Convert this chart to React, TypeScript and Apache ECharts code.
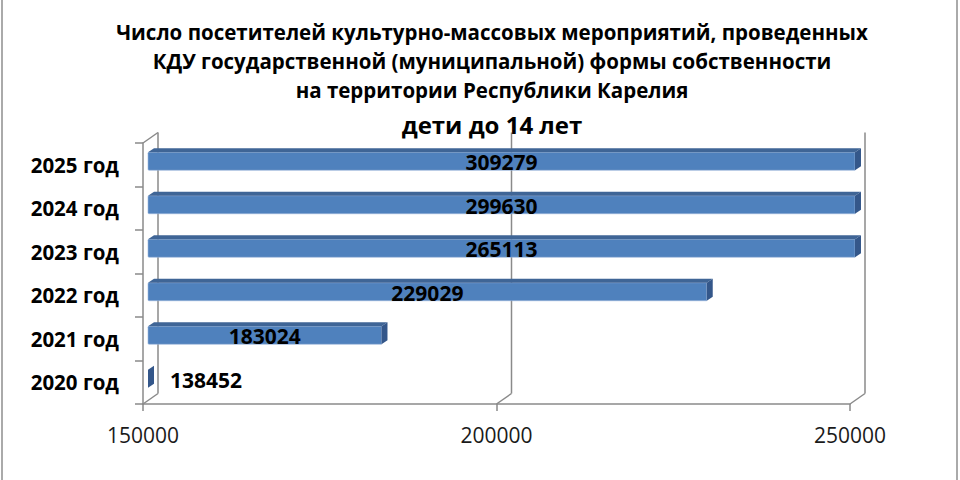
import React, { useEffect, useRef } from "react";
import * as echarts from "echarts";

const categories = ["2020 год", "2021 год", "2022 год", "2023 год", "2024 год", "2025 год"];
const visitors = [138452, 183024, 229029, 265113, 299630, 309279];
const xTicks = [150000, 200000, 250000];
const titleLines = [
  "Число посетителей культурно-массовых мероприятий, проведенных",
  "КДУ государственной (муниципальной) формы собственности",
  "на территории Республики Карелия",
];
const subtitle = "дети до 14 лет";

const X_MIN = xTicks[0];
const X_MAX = xTicks[xTicks.length - 1];
const X_INTERVAL = xTicks[1] - xTicks[0];

const FONT = "'Open Sans', 'Noto Sans', sans-serif";
const LINE = "#8a8a8a";

export default function App() {
  const ref = useRef<HTMLDivElement>(null);

  useEffect(() => {
    if (!ref.current) return;
    const chart = echarts.init(ref.current, undefined, { renderer: "svg" });

    const WALL_DX = 15;
    const WALL_DY = -10.5;
    const BAR_FDX = 5;
    const BAR_FDY = -3.5;
    const BAR_BDX = 6;
    const BAR_BDY = -4;

    const wallsRender = (params: any, api: any) => {
      const cs = params.coordSys;
      const top = cs.y;
      const bottom = cs.y + cs.height;
      const children: any[] = [];
      const st = { stroke: LINE, lineWidth: 1.5, fill: "none" };
      xTicks.forEach((v, i) => {
        const fx = api.coord([v, 0])[0];
        children.push({
          type: "line",
          shape: { x1: fx + WALL_DX, y1: top + WALL_DY, x2: fx + WALL_DX, y2: bottom + WALL_DY },
          style: st,
        });
        children.push({
          type: "line",
          shape: { x1: fx, y1: bottom, x2: fx + WALL_DX, y2: bottom + WALL_DY },
          style: st,
        });
        if (i === 0) {
          children.push({
            type: "line",
            shape: { x1: fx, y1: top, x2: fx + WALL_DX, y2: top + WALL_DY },
            style: st,
          });
        }
      });
      return { type: "group", children };
    };

    const barsRender = (params: any, api: any) => {
      const val = api.value(0);
      const idx = api.value(1);
      const c = Math.max(X_MIN, Math.min(X_MAX, val));
      const start = api.coord([X_MIN, idx]);
      const end = api.coord([c, idx]);
      const bandH = api.size([0, 1])[1];
      const h = bandH * 0.414;
      const yc = start[1] + BAR_FDY;
      const yTop = yc - h / 2;
      const yBot = yc + h / 2;
      const x0 = start[0] + BAR_FDX;
      const x1 = end[0] + BAR_FDX;
      const children: any[] = [];
      if (x1 > x0) {
        children.push({
          type: "rect",
          shape: { x: x0, y: yTop, width: x1 - x0, height: h, r: [1, 0, 0, 1] },
          style: { fill: "#4f81bd", stroke: "#9cb7db", lineWidth: 0.6 },
        });
        children.push({
          type: "polygon",
          shape: {
            points: [
              [x0, yTop],
              [x0 + BAR_BDX, yTop + BAR_BDY],
              [x1 + BAR_BDX, yTop + BAR_BDY],
              [x1, yTop],
            ],
          },
          style: { fill: "#3f6596" },
        });
      }
      children.push({
        type: "polygon",
        shape: {
          points: [
            [x1, yTop],
            [x1 + BAR_BDX, yTop + BAR_BDY],
            [x1 + BAR_BDX, yBot + BAR_BDY],
            [x1, yBot],
          ],
        },
        style: { fill: "#34578a" },
      });
      const inside = val >= X_MIN;
      children.push({
        type: "text",
        x: inside ? (x0 + x1) / 2 : x0 + 22,
        y: yc + 1,
        style: {
          text: String(val),
          fontFamily: FONT,
          fontWeight: "bold",
          fontSize: 21,
          fill: "#000",
          align: inside ? "center" : "left",
          verticalAlign: "middle",
        },
      });
      return { type: "group", children };
    };

    chart.setOption({
      animation: false,
      backgroundColor: "#ffffff",
      title: [
        {
          text: titleLines.join("\n"),
          left: 487,
          top: 12,
          textAlign: "center",
          textStyle: {
            fontFamily: FONT,
            fontWeight: "bold",
            fontSize: 20.5,
            lineHeight: 29,
            color: "#000",
          },
        },
        {
          text: subtitle,
          left: 487,
          top: 103,
          textAlign: "center",
          textStyle: {
            fontFamily: FONT,
            fontWeight: "bold",
            fontSize: 24,
            lineHeight: 32,
            color: "#000",
          },
        },
      ],
      graphic: [
        {
          type: "rect",
          shape: { x: 2, y: -3, width: 955, height: 486 },
          style: { fill: "none", stroke: "#8f8f8f", lineWidth: 1.5 },
          silent: true,
        },
      ],
      grid: { left: 143, top: 143, width: 707, height: 261 },
      xAxis: {
        type: "value",
        min: X_MIN,
        max: X_MAX,
        interval: X_INTERVAL,
        axisLine: { show: true, lineStyle: { color: LINE, width: 1.5 } },
        axisTick: { show: true, length: 7, lineStyle: { color: LINE, width: 1.5 } },
        splitLine: { show: false },
        axisLabel: {
          fontFamily: FONT,
          fontSize: 21,
          color: "#1a1a1a",
          margin: 20,
          formatter: (v: number) => String(v),
        },
      },
      yAxis: {
        type: "category",
        data: categories,
        axisLine: { show: true, lineStyle: { color: LINE, width: 1.5 } },
        axisTick: { show: true, length: 8, lineStyle: { color: LINE, width: 1.5 } },
        axisLabel: {
          fontFamily: FONT,
          fontWeight: "bold",
          fontSize: 20.5,
          color: "#000",
          margin: 24,
          padding: [4, 0, 0, 0],
        },
      },
      series: [
        {
          type: "custom",
          name: "walls",
          renderItem: wallsRender,
          data: [[X_MIN, 0]],
          encode: { x: 0, y: 1 },
          silent: true,
          z: 1,
        },
        {
          type: "custom",
          name: "Число посетителей",
          renderItem: barsRender,
          data: visitors.map((v, i) => [v, i]),
          encode: { x: 0, y: 1 },
          z: 2,
        },
      ],
    });

    return () => chart.dispose();
  }, []);

  return (
    <div
      ref={ref}
      style={{ position: "fixed", left: 0, top: 0, width: 960, height: 480 }}
    />
  );
}
